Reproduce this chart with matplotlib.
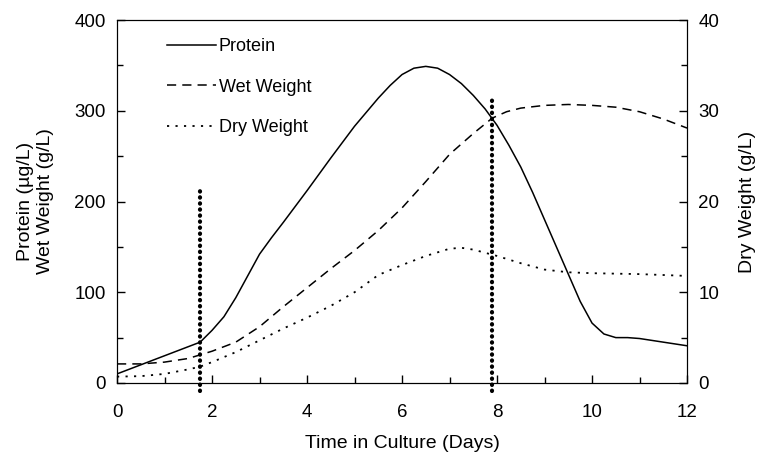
import numpy as np
import matplotlib.pyplot as plt
from matplotlib.ticker import MultipleLocator

plt.rcParams['font.family'] = ['Liberation Sans', 'DejaVu Sans']

# 数据
days_protein = [0, 0.5, 1.0, 1.5, 1.75, 2.0, 2.25, 2.5, 2.75, 3.0, 3.25, 3.5, 4.0, 4.5, 5.0, 5.5,
                5.75, 6.0, 6.25, 6.5, 6.75, 7.0, 7.25, 7.5, 7.75, 8.0, 8.25, 8.5, 8.75, 9.0,
                9.25, 9.5, 9.75, 10.0, 10.25, 10.5, 10.75, 11.0, 11.5, 12]
protein = [10, 20, 30, 40, 45, 58, 73, 94, 118, 142, 160, 177, 212, 248, 283, 314,
           328, 340, 347, 349, 347, 340, 330, 317, 302, 284, 262, 238, 210, 180,
           150, 120, 90, 66, 54, 50, 50, 49, 45, 41]

days_wet = [0, 0.5, 1.0, 1.5, 1.75, 2.0, 2.5, 3.0, 3.5, 4.0, 4.5, 5.0, 5.5, 6.0, 6.5, 7.0,
            7.5, 7.9, 8.2, 8.5, 9.0, 9.5, 10.0, 10.5, 11.0, 11.5, 12]
wet = [21, 21, 23, 27, 31, 35, 45, 62, 84, 105, 126, 146, 168, 193, 222, 252,
       275, 292, 299, 303, 306, 307, 306, 304, 299, 291, 281]

days_dry = [0, 0.5, 1.0, 1.5, 1.75, 2.0, 2.5, 3.0, 3.5, 4.0, 4.5, 5.0, 5.5, 6.0, 6.5, 7.0,
            7.25, 7.5, 8.0, 8.5, 9.0, 9.5, 10.0, 11.0, 12]
dry = [0.7, 0.75, 1.0, 1.5, 1.8, 2.3, 3.4, 4.7, 6.0, 7.2, 8.5, 10.0, 11.9, 13.0, 14.0, 14.8,
       14.9, 14.7, 14.0, 13.2, 12.5, 12.2, 12.1, 12.0, 11.8]

# 竖直点线 (位置, 上端)
marker_days = [1.75, 7.9]
marker_tops = [212, 312]
marker_bottom = -9

fig = plt.figure(figsize=(7.6, 4.57), dpi=100)
ax = fig.add_axes([0.154, 0.162, 0.750, 0.794])

ax.plot(days_protein, protein, color='black', lw=1.1, label='Protein')
ax.plot(days_wet, wet, color='black', lw=1.1, linestyle=(0, (6, 4)), label='Wet Weight')

ax2 = ax.twinx()
ax2.plot(days_dry, dry, color='black', lw=1.3, linestyle=(0, (1.2, 3.5)), label='Dry Weight')

for d, top in zip(marker_days, marker_tops):
    ax.plot([d, d], [marker_bottom, top], color='black', lw=3.0,
            linestyle=(0, (0.1, 1.35)), dash_capstyle='round', clip_on=False)

ax.set_xlim(0, 12)
ax.set_ylim(0, 400)
ax2.set_ylim(0, 40)

ax.xaxis.set_major_locator(MultipleLocator(2))
ax.xaxis.set_minor_locator(MultipleLocator(1))
ax.yaxis.set_major_locator(MultipleLocator(100))
ax.yaxis.set_minor_locator(MultipleLocator(50))
ax2.yaxis.set_major_locator(MultipleLocator(10))
ax2.yaxis.set_minor_locator(MultipleLocator(5))

for a in (ax, ax2):
    a.tick_params(which='major', direction='in', length=6, width=1, labelsize=13.5, pad=8)
    a.tick_params(which='minor', direction='in', length=4, width=1)
ax.tick_params(axis='x', top=False, which='both', pad=15)

ax.set_xlabel('Time in Culture (Days)', fontsize=14, labelpad=10)
ax.set_ylabel('Protein (µg/L)\nWet Weight (g/L)', fontsize=14, labelpad=15)
ax2.set_ylabel('Dry Weight (g/L)', fontsize=14, labelpad=14)

h1, l1 = ax.get_legend_handles_labels()
h2, l2 = ax2.get_legend_handles_labels()
ax.legend(h1 + h2, l1 + l2, loc='upper left', frameon=False, fontsize=13,
          handlelength=2.7, handletextpad=0.15, labelspacing=1.3,
          bbox_to_anchor=(0.06, 0.995))

fig.savefig('out.png', dpi=100)
